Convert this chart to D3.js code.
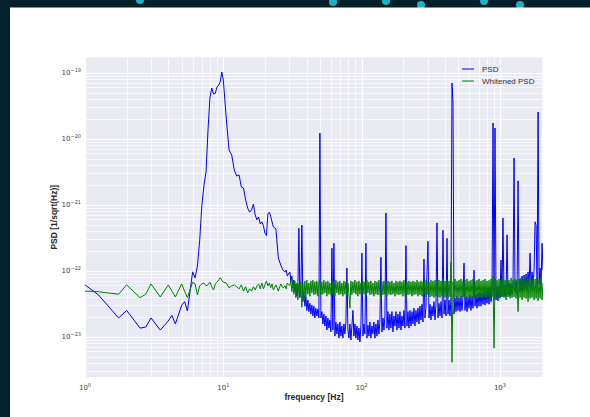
<!DOCTYPE html>
<html>
<head>
<meta charset="utf-8">
<script src="https://cdn.jsdelivr.net/npm/d3@7"></script>
<style>
body { margin: 0; background: #04202a; overflow: hidden; }
</style>
</head>
<body>
<div id="graph"></div>
<script>
// layout constants - tweak here, not down in the drawing code
var width = 590,
    height = 417,
    plotLeft = 85,
    plotRight = 543,
    plotTop = 57.5,
    plotBottom = 377;

var xlabel = "frequency [Hz]",
    ylabel = "PSD [1/sqrt(Hz)]";

// all PSD values below are in units of 1e-23
var unit = 1e-23;

// low frequency bins (Hz)
var freqLow = [1, 1.25, 1.75, 2, 2.5, 2.75, 3, 3.5, 4, 4.25,
    4.5, 5, 5.25, 5.5, 6, 6.25, 6.5, 6.75, 7, 7.25,
    7.5, 7.75, 8, 8.25, 8.5, 8.75, 9, 9.25, 9.5, 9.75,
    10, 10.5, 11, 11.5, 12, 12.5, 13, 13.5, 14, 14.5,
    15, 15.5, 16, 16.5, 17, 17.5, 18, 18.5, 19, 19.5,
    20, 20.5, 21, 21.5, 22, 22.5, 23, 24, 25, 26,
    27, 28, 28.5, 29];

var psdLow = [6.1, 4.3, 1.92, 2.5, 1.35, 1.4, 1.92, 1.26, 1.73, 2.1,
    1.56, 3.0, 3.4, 2.45, 9.6, 7.8, 11.8, 29, 99, 200,
    311, 1355, 4120, 5860, 4750, 4880, 6070, 6500, 7220, 10250,
    7740, 2060, 674, 566, 336, 272, 282, 185, 179, 118,
    89, 77, 83, 102, 70, 59, 65, 51, 55, 48,
    37, 34, 72, 77, 67, 55, 46, 43, 15.6, 12.2,
    10.2, 9.6, 10.2, 8.3];

var whiteLow = [4.9, 4.8, 4.4, 6.1, 3.9, 4.4, 6.3, 4.0, 6.1, 4.9,
    4.0, 6.3, 4.9, 3.9, 6.7, 6.3, 4.3, 5.9, 6.3, 6.5,
    5.9, 6.1, 6.7, 5.7, 5.1, 6.3, 6.7, 7.2, 7.8, 7.2,
    6.7, 6.5, 5.5, 5.9, 6.1, 5.7, 5.3, 6.1, 4.9, 5.7,
    4.6, 5.3, 4.9, 5.7, 5.1, 5.9, 6.3, 5.3, 6.5, 5.3,
    6.1, 7.0, 5.9, 6.5, 5.5, 6.3, 5.1, 6.1, 4.9, 6.3,
    5.5, 5.9, 5.3, 6.5];

// high frequency bins (Hz), dense part of the spectrum
var freqHigh = [30.28, 30.79, 31.31, 31.84, 32.37, 32.91, 33.47, 34.03, 34.60, 35.18,
    35.77, 36.37, 36.98, 37.60, 38.24, 38.88, 39.53, 40.19, 40.87, 41.56,
    42.26, 42.97, 43.69, 44.42, 45.17, 45.93, 46.70, 47.48, 48.28, 49.09,
    49.92, 50.76, 51.61, 52.48, 53.36, 54.26, 55.17, 56.10, 57.04, 58.00,
    58.97, 59.96, 60.97, 61.99, 63.03, 64.09, 65.17, 66.26, 67.38, 68.51,
    69.66, 70.83, 72.02, 73.23, 74.46, 75.71, 76.98, 78.27, 79.59, 80.93,
    82.29, 83.67, 85.08, 86.51, 87.96, 89.44, 90.94, 92.47, 94.02, 95.60,
    97.21, 98.84, 100.5, 102.2, 103.9, 105.6, 107.4, 109.2, 111.1, 112.9,
    114.8, 116.7, 118.7, 120.7, 122.7, 124.8, 126.9, 129.0, 131.2, 133.4,
    135.6, 137.9, 140.2, 142.6, 145.0, 147.4, 149.9, 152.4, 155.0, 157.6,
    160.2, 162.9, 165.6, 168.4, 171.3, 174.2, 177.1, 180.1, 183.1, 186.2,
    189.3, 192.5, 195.7, 199.0, 202.3, 205.7, 209.2, 212.7, 216.3, 219.9,
    223.6, 227.4, 231.2, 235.1, 239.0, 243.0, 247.1, 251.3, 255.5, 259.8,
    264.1, 268.5, 273.1, 277.7, 282.3, 287.0, 291.9, 296.8, 301.8, 306.9,
    312.0, 317.2, 322.6, 328.0, 333.5, 339.1, 344.8, 350.6, 356.5, 362.5,
    368.6, 374.8, 381.1, 387.5, 394.0, 400.6, 407.3, 414.1, 421.1, 428.2,
    435.4, 442.7, 450.1, 457.7, 465.4, 473.2, 481.2, 489.3, 497.5, 505.9,
    514.3, 522.9, 531.7, 540.6, 549.8, 559.0, 568.4, 577.9, 587.6, 597.5,
    607.5, 617.7, 628.1, 638.7, 649.4, 660.3, 671.4, 682.7, 694.1, 705.8,
    717.6, 729.7, 742.0, 754.5, 767.1, 780.0, 793.1, 806.4, 820.0, 833.8,
    847.7, 861.9, 876.5, 891.2, 906.2, 921.4, 936.9, 952.6, 968.6, 984.9,
    1001, 1018, 1035, 1052, 1070, 1088, 1107, 1126, 1144, 1163,
    1183, 1203, 1223, 1244, 1265, 1286, 1307, 1329, 1352, 1375,
    1398, 1421, 1445, 1469, 1494, 1519, 1545, 1571, 1597, 1624,
    1651, 1679, 1707, 1736, 1765, 1795, 1825, 1856, 1887, 1919,
    1950, 1983, 2016, 2048];

var psdHigh = [9.6, 6.8, 8.3, 5.5, 7.2, 4.8, 6.3, 4.1, 5.5, 44,
    3.9, 5.1, 49, 3.4, 4.8, 2.9, 4.1, 2.5, 3.6, 2.4,
    3.2, 2.2, 3.0, 2.06, 2.9, 1.92, 2.7, 2.06, 2.6, 1.92,
    1220, 1.92, 2.4, 1.56, 2.2, 1.45, 2.06, 1.26, 1.92, 1.35,
    1.79, 1.18, 22, 1.26, 26, 1.02, 1.67, 1.10, 1.56, 0.95,
    1.67, 1.02, 1.45, 0.95, 1.56, 1.10, 1.67, 11, 1.26, 0.95,
    1.56, 0.89, 1.45, 2.5, 1.02, 1.56, 0.95, 1.45, 0.89, 1.35,
    0.83, 1.45, 18.5, 1.02, 1.56, 1.10, 26, 0.95, 1.5, 1.02,
    1.67, 0.95, 1.45, 1.10, 1.67, 0.95, 1.56, 1.02, 1.79, 1.10,
    1.67, 16, 1.18, 1.92, 1.26, 2.06, 75, 1.35, 2.4, 1.26,
    2.2, 1.35, 2.4, 1.18, 2.06, 1.45, 2.4, 1.26, 2.2, 1.35,
    2.4, 1.26, 2.06, 1.45, 2.5, 1.35, 24, 1.45, 2.4, 1.35,
    2.5, 1.45, 2.4, 1.56, 2.7, 1.45, 2.5, 1.67, 2.7, 1.56,
    2.9, 1.79, 3.1, 1.67, 15, 1.92, 2.9, 9.2, 28, 1.92,
    3.1, 1.79, 2.9, 2.06, 3.4, 1.79, 3.1, 53, 1.92, 3.2,
    2.06, 3.4, 1.92, 41, 2.2, 3.6, 2.06, 31, 2.2, 3.6,
    2.06, 3.9, 6980, 3600, 2.2, 3.9, 2.4, 4.1, 2.5, 3.9,
    2.4, 4.1, 2.5, 3.9, 13, 2.5, 4.1, 2.4, 4.0, 2.7,
    4.3, 2.5, 4.1, 2.7, 10.2, 2.9, 4.4, 2.7, 4.6, 2.9,
    4.8, 2.9, 4.6, 3.1, 5.1, 3.0, 4.9, 3.2, 5.1, 3.1,
    5.3, 3.4, 5.1, 1730, 3.6, 1450, 3.6, 5.5, 3.5, 5.7,
    3.9, 14.5, 4.0, 63, 4.1, 6.1, 4.0, 35, 4.3, 6.5,
    4.1, 6.3, 4.4, 6.8, 510, 4.8, 7.0, 4.4, 229, 4.8,
    7.5, 4.9, 8.3, 5.1, 8.6, 5.5, 8.9, 5.3, 9.6, 5.7,
    18.5, 5.5, 9.6, 5.9, 10.2, 55, 49, 5.9, 2540, 6.3,
    11, 6.1, 26, 10.2];

var whiteHigh = [5.9, 7.2, 4.8, 6.8, 4.4, 7.0, 3.9, 6.5, 3.6, 6.3,
    4.1, 6.8, 2.8, 6.5, 3.6, 7.0, 4.1, 7.2, 4.4, 6.5,
    4.1, 7.0, 4.6, 7.2, 4.3, 6.8, 4.4, 7.0, 4.1, 6.5,
    7.2, 4.3, 6.8, 4.4, 7.2, 4.6, 6.8, 4.1, 7.0, 4.4,
    6.5, 4.3, 7.0, 4.4, 6.8, 4.1, 7.2, 4.6, 6.8, 4.3,
    7.0, 4.4, 6.5, 4.1, 7.0, 4.4, 6.8, 4.3, 6.5, 4.4,
    2.7, 7.0, 4.3, 6.8, 4.6, 7.2, 4.4, 6.8, 4.1, 7.0,
    4.4, 6.5, 4.3, 7.0, 4.4, 6.8, 4.1, 7.2, 4.6, 6.8,
    4.3, 7.0, 4.4, 6.5, 4.1, 7.0, 4.4, 6.8, 4.3, 7.2,
    4.4, 3.6, 6.8, 4.3, 7.0, 4.4, 6.8, 4.1, 7.0, 4.4,
    6.8, 4.3, 7.0, 4.4, 6.5, 4.1, 7.0, 4.4, 6.8, 4.3,
    7.0, 4.4, 6.8, 4.1, 7.2, 4.4, 3.6, 6.8, 4.3, 7.0,
    4.4, 6.8, 4.1, 7.0, 4.3, 6.8, 4.4, 7.2, 4.1, 6.8,
    4.3, 7.0, 4.1, 6.8, 4.4, 7.2, 4.0, 7.0, 4.3, 6.8,
    4.0, 7.2, 4.1, 7.0, 3.9, 7.2, 4.1, 7.0, 4.0, 7.2,
    3.9, 7.0, 4.1, 7.5, 3.9, 7.0, 4.0, 7.2, 3.8, 7.0,
    4.0, 13.5, 0.41, 6.8, 3.9, 7.5, 4.0, 7.0, 3.8, 7.2,
    4.0, 7.5, 3.9, 7.0, 4.0, 7.2, 3.8, 7.5, 4.0, 7.0,
    3.9, 7.2, 4.0, 7.5, 3.8, 7.0, 4.0, 7.2, 3.9, 7.5,
    4.0, 7.0, 3.8, 7.2, 4.0, 7.5, 3.9, 7.0, 4.0, 7.2,
    3.8, 7.5, 4.0, 8.3, 0.67, 7.8, 3.9, 7.2, 4.0, 7.5,
    3.8, 7.2, 4.0, 7.8, 3.9, 7.2, 3.6, 7.5, 4.0, 7.2,
    3.8, 7.8, 3.9, 7.2, 4.0, 7.5, 3.8, 7.2, 2.4, 7.5,
    3.9, 7.8, 3.6, 7.2, 3.9, 7.8, 3.8, 7.5, 3.4, 7.8,
    3.8, 7.2, 3.9, 7.8, 3.6, 7.5, 3.8, 7.8, 3.5, 7.2,
    3.8, 7.8, 3.6, 6.5];

// legend entries
var legendNames = ["PSD", "Whitened PSD"];
var lineColors = ["#0000ff", "#008000"];

// the little cyan dots peeking out above the white card
var dotX = [140, 333, 386, 421, 484, 520];
var dotY = [0, 2, 1, 5, 1, 5];

/**
 * zip frequencies and values into {f, v} objects
 */
function build_series(freqs, vals) {
    var out = [];
    for (var i = 0; i < freqs.length; i++) {
        out.push({'f': freqs[i], 'v': vals[i] * unit});
    }
    return out;
}

var allFreq = freqLow.concat(freqHigh);
var psdData = build_series(allFreq, psdLow.concat(psdHigh));
var whiteData = build_series(allFreq, whiteLow.concat(whiteHigh));

var svg = d3.select("#graph")
  .append("svg")
    .attr("width", width)
    .attr("height", height);

// background decoration
svg.selectAll("circle.dot")
    .data(dotX)
    .enter()
    .append("circle")
    .attr("class", "dot")
    .attr("cx", function(d) { return d; })
    .attr("cy", function(d, i) { return dotY[i]; })
    .attr("r", 4)
    .attr("fill", "#1cb3c2");

svg.append("rect")
    .attr("x", 10)
    .attr("y", 7.5)
    .attr("width", width - 10)
    .attr("height", height)
    .attr("fill", "#ffffff");

// scales
var x = d3.scaleLog()
    .domain([1, 2048])
    .range([plotLeft, plotRight]);

var y = d3.scaleLog()
    .domain([2.45e-24, 1.7e-19])
    .range([plotBottom, plotTop]);

// plot background
svg.append("rect")
    .attr("x", plotLeft)
    .attr("y", plotTop)
    .attr("width", plotRight - plotLeft)
    .attr("height", plotBottom - plotTop)
    .attr("fill", "#eaeaf2");

var xticks = x.ticks();
var yticks = y.ticks();

function is_major(d) {
    var e = Math.log10(d);
    return Math.abs(e - Math.round(e)) < 1e-6;
}

// grid, minor and major
svg.append("g").selectAll("line")
    .data(xticks)
    .enter()
    .append("line")
    .attr("x1", function(d) { return Math.round(x(d)) + 0.5; })
    .attr("x2", function(d) { return Math.round(x(d)) + 0.5; })
    .attr("y1", plotTop)
    .attr("y2", plotBottom)
    .attr("stroke", "#ffffff")
    .attr("stroke-width", function(d) { return is_major(d) ? 1.2 : 0.7; });

svg.append("g").selectAll("line")
    .data(yticks)
    .enter()
    .append("line")
    .attr("y1", function(d) { return Math.round(y(d)) + 0.5; })
    .attr("y2", function(d) { return Math.round(y(d)) + 0.5; })
    .attr("x1", plotLeft)
    .attr("x2", plotRight)
    .attr("stroke", "#ffffff")
    .attr("stroke-width", function(d) { return is_major(d) ? 1.2 : 0.7; });

// tick labels as 10^n
function power_label(sel, d) {
    var e = Math.round(Math.log10(d));
    sel.append("tspan").text("10");
    sel.append("tspan")
        .attr("dy", -3)
        .attr("font-size", "5px")
        .text(e < 0 ? "\u2212" + (-e) : e);
}

svg.append("g").selectAll("text")
    .data(xticks.filter(is_major))
    .enter()
    .append("text")
    .attr("x", function(d) { return x(d); })
    .attr("y", 390)
    .attr("text-anchor", "middle")
    .attr("font-family", "DejaVu Sans, sans-serif")
    .attr("font-size", "7px")
    .attr("fill", "#444")
    .each(function(d) { power_label(d3.select(this), d); });

svg.append("g").selectAll("text")
    .data(yticks.filter(is_major))
    .enter()
    .append("text")
    .attr("x", 81)
    .attr("y", function(d) { return y(d) + 2.5; })
    .attr("text-anchor", "end")
    .attr("font-family", "DejaVu Sans, sans-serif")
    .attr("font-size", "7px")
    .attr("fill", "#444")
    .each(function(d) { power_label(d3.select(this), d); });

// axis labels
svg.append("text")
    .attr("x", (plotLeft + plotRight) / 2)
    .attr("y", 400)
    .attr("text-anchor", "middle")
    .attr("font-family", "Liberation Sans, Arial, sans-serif")
    .attr("font-weight", "bold")
    .attr("font-size", "8.5px")
    .attr("fill", "#262626")
    .text(xlabel);

svg.append("text")
    .attr("transform", "translate(57," + ((plotTop + plotBottom) / 2) + ") rotate(-90)")
    .attr("text-anchor", "middle")
    .attr("font-family", "Liberation Sans, Arial, sans-serif")
    .attr("font-weight", "bold")
    .attr("font-size", "8.5px")
    .attr("fill", "#262626")
    .text(ylabel);

// the curves
svg.append("clipPath")
    .attr("id", "plotclip")
  .append("rect")
    .attr("x", plotLeft)
    .attr("y", plotTop)
    .attr("width", plotRight - plotLeft)
    .attr("height", plotBottom - plotTop);

var line = d3.line()
    .x(function(d) { return x(d.f); })
    .y(function(d) { return y(d.v); });

var series = [psdData, whiteData];
svg.append("g")
    .attr("clip-path", "url(#plotclip)")
  .selectAll("path")
    .data(series)
    .enter()
    .append("path")
    .attr("d", line)
    .attr("fill", "none")
    .attr("stroke", function(d, i) { return lineColors[i]; })
    .attr("stroke-width", 1)
    .attr("stroke-linejoin", "round");

// legend
var legend = svg.append("g").selectAll("g")
    .data(legendNames)
    .enter()
    .append("g")
    .attr("transform", function(d, i) { return "translate(462," + (69 + i * 12) + ")"; });

legend.append("line")
    .attr("x1", 0)
    .attr("x2", 12)
    .attr("stroke", function(d, i) { return lineColors[i]; })
    .attr("stroke-width", 1);

legend.append("text")
    .attr("x", 20)
    .attr("y", 3)
    .attr("font-family", "Liberation Sans, Arial, sans-serif")
    .attr("font-size", "8px")
    .attr("fill", "#333")
    .text(function(d) { return d; });
</script>
</body>
</html>
